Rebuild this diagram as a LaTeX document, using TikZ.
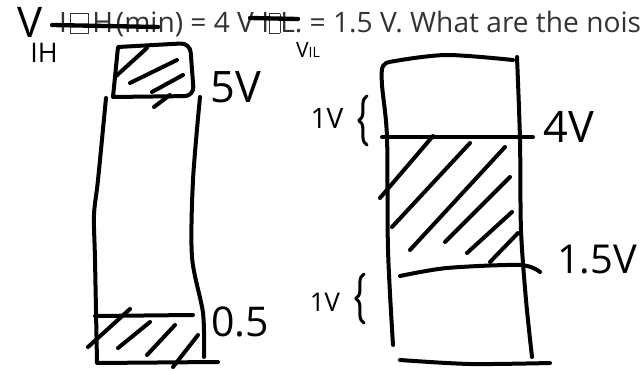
\documentclass[tikz,border=0pt]{standalone}
\usepackage{fontspec}
\setmainfont{Open Sans}
\usetikzlibrary{decorations.pathreplacing}
\newcommand{\nobox}[1]{{\setlength{\fboxsep}{0pt}\setlength{\fboxrule}{0.5pt}\fbox{\rule{0pt}{0.68em}\hspace{#1}}}}

\begin{document}
\begin{tikzpicture}[
    x=0.03cm, y=-0.03cm,
    pen/.style={line width=1.2mm, line cap=round, line join=round},
    strike/.style={line width=1.3mm, line cap=round},
    hand/.style={font=\fontsize{#1}{#1}\selectfont, inner sep=0pt},
    printed/.style={font=\fontsize{24}{28}\selectfont, text=black!80, inner sep=0pt, anchor=base west},
    bracemark/.style={pen, line width=0.9mm, decorate, decoration={brace, amplitude=#1}},
]
\clip (0,0) rectangle (641,371);

%% Printed question line (struck through)
\node[printed] (question) at (59,33) {I\hspace{0.12em}\nobox{0.62em}\hspace{0.12em}H\hspace{0.1em}(min) = 4 V I\nobox{0.36em}L. = 1.5 V. What are the nois};
\draw[strike] (52,25) -- (158,27);
\draw[strike] (250,18) -- (298,19);

%% Handwritten replacements
\node[hand=36] (vih) at (30,22) {V};
\node[hand=23] (vihsub) at (44,53) {IH};
\node[hand=18] (vil) at (308,50) {V{\fontsize{12}{12}\selectfont IL}};

%% Left column: output levels
\draw[pen] (113,97) -- (118,47) [rounded corners=8pt] -- (190,43) -- (194,96) [sharp corners] -- cycle;
\draw[pen] (115,77) -- (147,48);
\draw[pen] (177,60) -- (130,83);
\draw[pen] (183,75) -- (152,92);
\draw[pen] (170,95) -- (154,107);
\draw[pen] plot[smooth] coordinates {(106,98) (98,180) (94,215) (95,260) (97,362)};
\draw[pen] plot[smooth] coordinates {(200,97) (193,180) (192,257) (203,313) (204,357)};
\draw[pen] (95,316) -- (193,315);
\draw[pen] (97,363) -- (218,362);
\draw[pen] (130,309) -- (88,347);
\draw[pen] (150,322) -- (118,348);
\draw[pen] (175,325) -- (147,355);
\draw[pen] (198,335) -- (173,367);

\node[hand=37] (five) at (236,87) {5V};
\node[hand=35] (half) at (240,322) {0.5};

%% Right column: input levels
\draw[pen] plot[smooth] coordinates {(393,345) (388,250) (387,137) (382,85) (383,66) (395,61) (447,55) (513,60)};
\draw[pen] plot[smooth] coordinates {(517,57) (520,140) (521,230) (526,300) (532,357)};
\draw[pen] (382,137) -- (533,137);
\draw[pen] plot[smooth] coordinates {(400,276) (447,268) (520,265) (540,272)};
\draw[pen] plot[smooth] coordinates {(400,360) (470,364) (550,363)};
\draw[pen] (433,136) -- (380,198);
\draw[pen] (470,143) -- (392,227);
\draw[pen] (505,147) -- (410,250);
\draw[pen] (510,177) -- (445,242);
\draw[pen] (512,212) -- (467,253);
\draw[pen] (518,233) -- (490,262);

\node[hand=37] (four) at (569,127) {4V};
\node[hand=34] (onefive) at (597,260) {1.5V};
\node[hand=24] (marginhi) at (327,118) {1V};
\draw[bracemark=7pt] (367,145) -- (367,96);
\node[hand=22] (marginlo) at (325,302) {1V};
\draw[bracemark=7pt] (364,323) -- (364,274);

\end{tikzpicture}
\end{document}
